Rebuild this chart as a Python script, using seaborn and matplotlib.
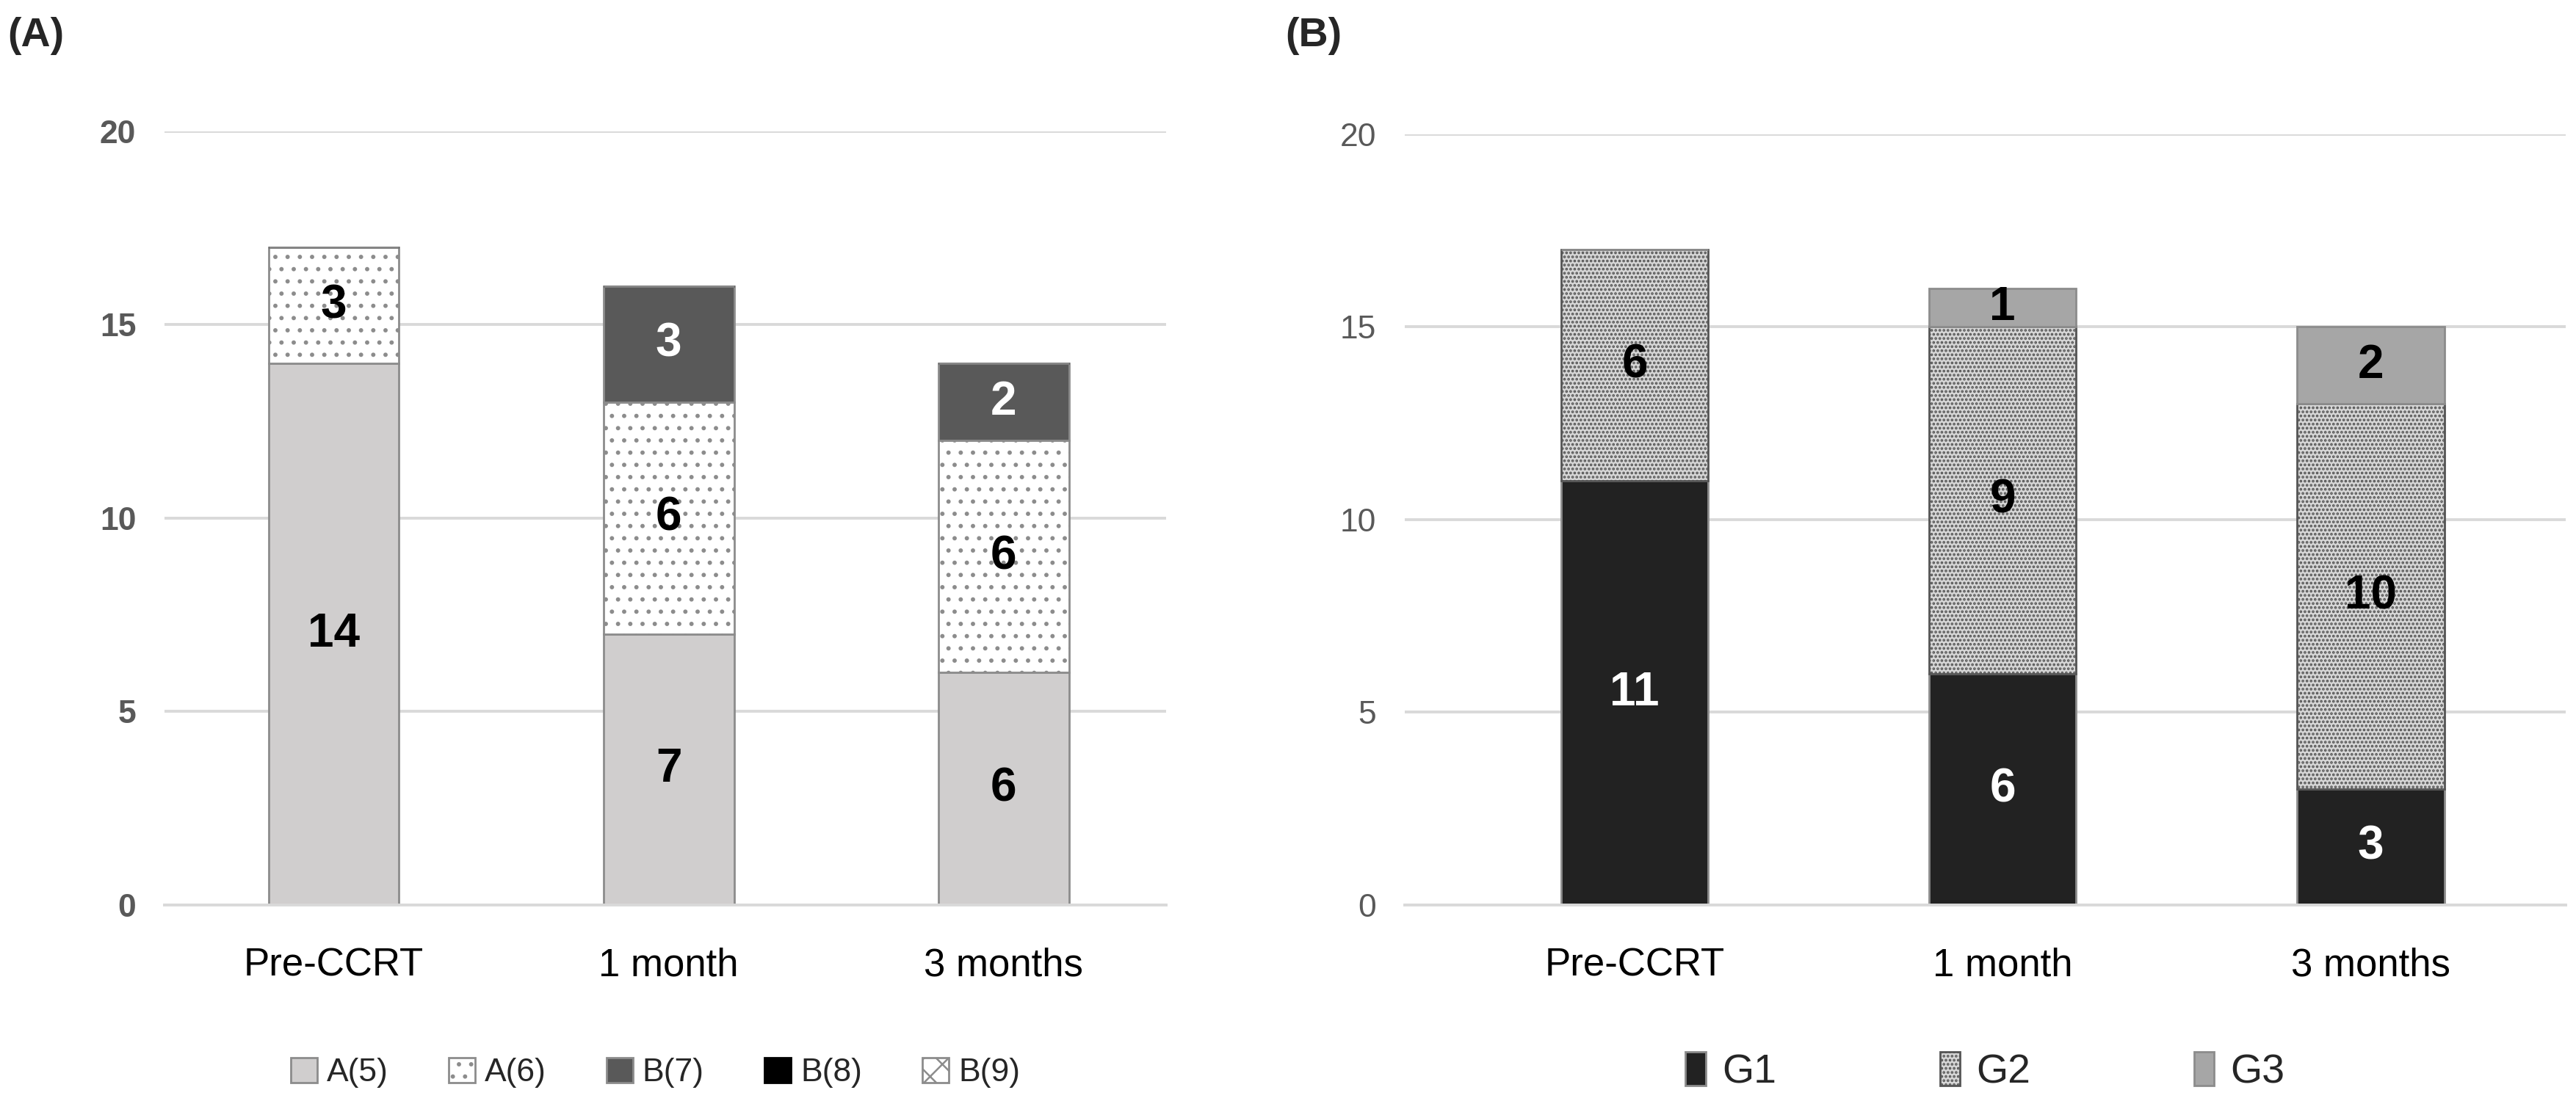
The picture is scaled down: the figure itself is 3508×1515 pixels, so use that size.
import matplotlib
matplotlib.use("Agg")
import matplotlib.pyplot as plt
import seaborn as sns

# data
timepoints = ["Pre-CCRT", "1 month", "3 months"]

# panel A: stacked counts per class
a_names = ["A(5)", "A(6)", "B(7)", "B(8)", "B(9)"]
a5 = [14, 7, 6]
a6 = [3, 6, 6]
b7 = [0, 3, 2]
b8 = [0, 0, 0]
b9 = [0, 0, 0]

# panel B: stacked counts per grade
b_names = ["G1", "G2", "G3"]
g1 = [11, 6, 3]
g2 = [6, 9, 10]
g3 = [0, 1, 2]

sns.set_theme(style="white")
plt.rcParams["font.family"] = ["Liberation Sans", "DejaVu Sans"]
plt.rcParams["hatch.linewidth"] = 0.9

GRID = "#d9d9d9"
EDGE = "#8c8c8c"
TICK = "#595959"


def style_axis(ax, xlim, tick_bold):
    ax.set_ylim(0, 20)
    ax.set_xlim(*xlim)
    ax.set_yticks([0, 5, 10, 15, 20])
    ax.yaxis.grid(True, color=GRID, linewidth=1.4)
    ax.set_axisbelow(True)
    for side in ["top", "right", "left"]:
        ax.spines[side].set_visible(False)
    ax.spines["bottom"].set_color(GRID)
    ax.spines["bottom"].set_linewidth(1.4)
    ax.tick_params(axis="y", length=0, pad=14, labelsize=16, labelcolor=TICK)
    ax.tick_params(axis="x", length=0, pad=21, labelsize=19, labelcolor="black")
    if tick_bold:
        for t in ax.get_yticklabels():
            t.set_fontweight("bold")
    ax.set_xlabel("")
    ax.set_ylabel("")


def stack(ax, series, names, styles, width):
    bottom = [0] * len(timepoints)
    for vals, name, st in zip(series, names, styles):
        sns.barplot(x=timepoints, y=vals, bottom=bottom, ax=ax, width=width,
                    color=st["fc"], edgecolor=st.get("ec", EDGE), linewidth=1.0,
                    hatch=st.get("hatch", None), label=name, errorbar=None)
        cont = ax.containers[-1]
        labels = [str(v) if v > 0 else "" for v in vals]
        ax.bar_label(cont, labels=labels, label_type="center",
                     color=st.get("tc", "black"), fontsize=23, fontweight="bold")
        bottom = [b + v for b, v in zip(bottom, vals)]


fig = plt.figure(figsize=(17.54, 7.575), dpi=200)
axA = fig.add_axes([0.0639, 0.1864, 0.3888, 0.6955])
axB = fig.add_axes([0.5453, 0.1864, 0.4507, 0.6928])

a_styles = [
    {"fc": "#d0cece"},
    {"fc": "white", "hatch": ".."},
    {"fc": "#595959", "tc": "white"},
    {"fc": "black", "ec": "black"},
    {"fc": "white", "hatch": "xx"},
]
stack(axA, [a5, a6, b7, b8, b9], a_names, a_styles, 0.39)
style_axis(axA, (-0.505, 2.485), True)

b_styles = [
    {"fc": "#222222", "tc": "white"},
    {"fc": "#d6d6d6", "hatch": "......", "ec": "#555555"},
    {"fc": "#a6a6a6"},
]
stack(axB, [g1, g2, g3], b_names, b_styles, 0.40)
style_axis(axB, (-0.625, 2.53), False)

axA.legend(loc="center", bbox_to_anchor=(0.49, -0.217), ncol=5, frameon=False,
           fontsize=16, handlelength=0.8, handleheight=0.8, handletextpad=0.3,
           columnspacing=1.85)
axB.legend(loc="center", bbox_to_anchor=(0.5, -0.217), ncol=3, frameon=False,
           fontsize=20, handlelength=0.5, handleheight=0.9, handletextpad=0.4,
           columnspacing=4.0)

fig.text(0.003, 0.985, "(A)", fontsize=20, fontweight="bold", va="top", ha="left")
fig.text(0.499, 0.985, "(B)", fontsize=20, fontweight="bold", va="top", ha="left")

fig.savefig("out.png", dpi=200, facecolor="white")
